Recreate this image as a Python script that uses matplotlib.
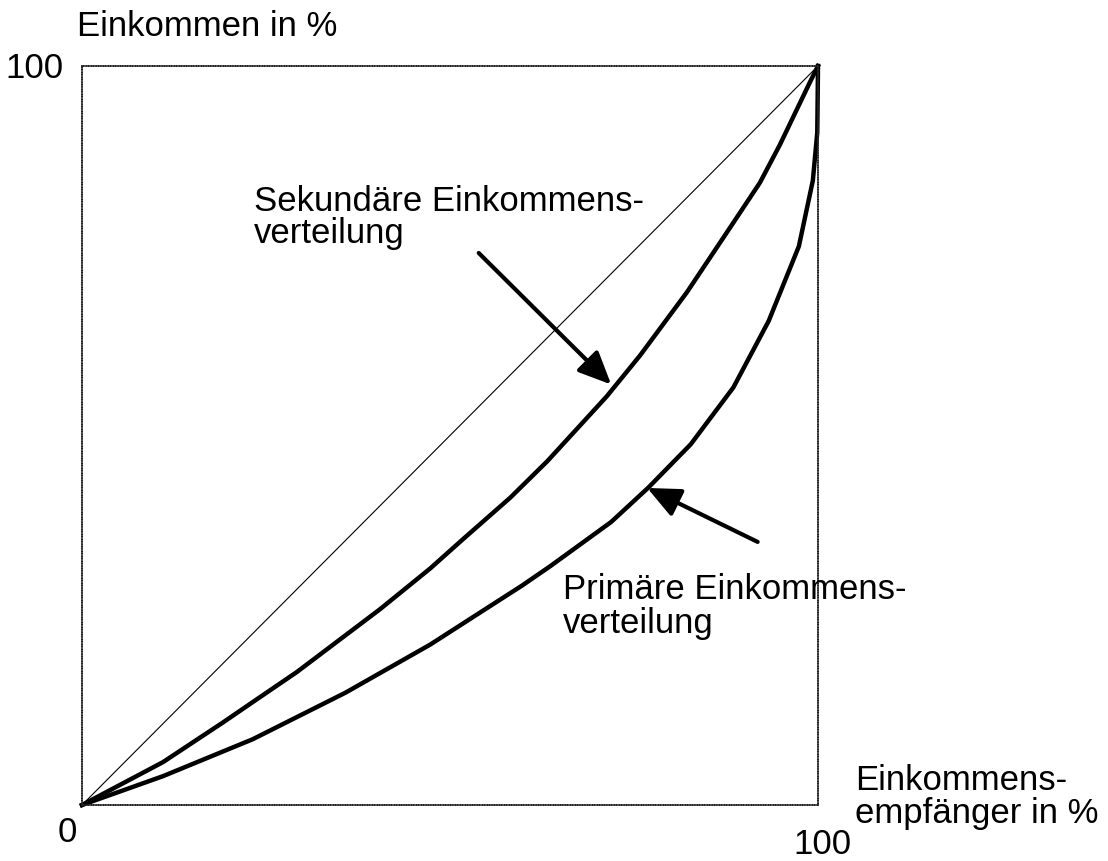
import matplotlib.pyplot as plt

plt.rcParams['font.family'] = ['Liberation Sans', 'DejaVu Sans']

# Lorenz curves (cumulative share of recipients vs. share of income, in %)
sek_x = [0, 11.0, 19.2, 23.6, 29.2, 40.5, 47.3, 51.8, 58.2, 63.2, 71.3, 75.8, 82.2, 88.5, 92.1, 94.8, 98.9, 100]
sek_y = [0, 5.8, 11.2, 14.2, 18.0, 26.5, 32.0, 36.0, 41.6, 46.5, 55.3, 60.8, 69.4, 78.8, 84.2, 89.3, 97.8, 100]

prim_x = [0, 11.0, 23.2, 35.8, 47.3, 59.8, 63.6, 71.9, 76.9, 82.7, 88.5, 93.3, 97.4, 99.3, 99.9, 100]
prim_y = [0, 3.9, 8.9, 15.2, 21.7, 29.7, 32.3, 38.3, 42.9, 48.8, 56.5, 65.5, 75.6, 84.5, 91.0, 100]

W, H = 1108, 862
fig = plt.figure(figsize=(W / 100, H / 100), dpi=100)
ax = fig.add_axes([82 / W, 1 - 806 / H, 736 / W, 739 / H])
ax.set_xlim(0, 100)
ax.set_ylim(0, 100)
ax.set_xticks([])
ax.set_yticks([])
for sp in ax.spines.values():
    sp.set_linestyle((0, (0.8, 0.8)))
    sp.set_linewidth(1.1)
    sp.set_color('#222222')

# line of equal distribution
ax.plot([0, 100], [0, 100], color='black', lw=0.8)
ax.plot(sek_x, sek_y, color='black', lw=3.2, solid_joinstyle='round', clip_on=False)
ax.plot(prim_x, prim_y, color='black', lw=3.2, solid_joinstyle='round', clip_on=False)

arrow = dict(arrowstyle='-|>,head_length=1.0,head_width=0.45', mutation_scale=20,
             color='black', lw=3, shrinkA=0, shrinkB=0)
ax.annotate('', xy=(71.9, 56.9), xytext=(53.9, 74.7), arrowprops=arrow)
ax.annotate('', xy=(76.8, 42.9), xytext=(91.8, 35.6), arrowprops=arrow)


def label(px, py, s, ha='left'):
    fig.text(px / W, 1 - py / H, s, fontsize=25, ha=ha, va='baseline')


label(77, 36, 'Einkommen in %')
label(64, 78, '100', ha='right')
label(58, 842, '0')
label(793, 854, '100')
label(855, 790, 'Einkommens-')
label(855, 823, 'empfänger in %')
label(254, 211, 'Sekundäre Einkommens-')
label(254, 243, 'verteilung')
label(563, 599, 'Primäre Einkommens-')
label(563, 633, 'verteilung')

fig.savefig('out.png', dpi=100)
